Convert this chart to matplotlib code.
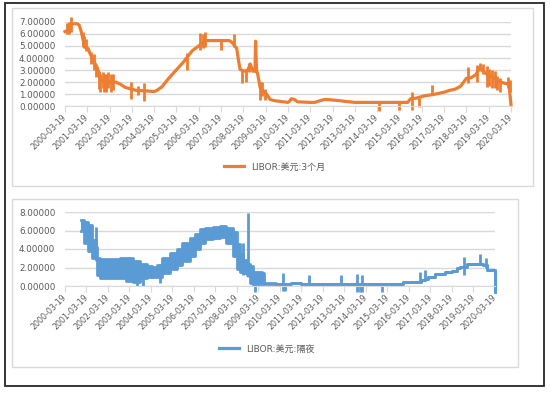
import numpy as np
import pandas as pd
import matplotlib
matplotlib.use("Agg")
import matplotlib.pyplot as plt
from matplotlib.patches import Rectangle
from matplotlib.lines import Line2D

plt.rcParams['font.family'] = ['DejaVu Sans', 'Noto Sans CJK SC']

W, H = 550, 398
tick_labels = ["%d-03-19" % y for y in range(2000, 2021)]

# LIBOR 3 month (main path)
m3_dates = ["2000-03-19", "2000-05-01", "2000-06-10", "2000-07-15", "2000-10-01",
            "2000-11-05", "2000-12-10", "2001-01-15", "2001-02-10", "2001-04-01",
            "2001-05-01", "2001-06-15", "2001-08-30", "2001-09-19", "2001-10-25",
            "2002-01-01", "2002-06-20", "2002-09-01", "2002-12-01", "2003-03-19",
            "2003-06-01", "2003-12-01", "2004-03-19", "2004-05-01", "2004-07-25",
            "2004-10-25", "2005-04-01", "2005-07-01", "2005-12-01", "2006-05-10",
            "2006-08-01", "2007-08-01", "2007-09-15", "2007-11-30", "2008-01-05",
            "2008-01-25", "2008-04-01", "2008-06-01", "2008-07-10", "2008-08-20",
            "2008-09-25", "2008-10-05", "2008-10-20", "2008-11-10", "2008-12-20",
            "2009-02-15", "2009-04-01", "2009-05-30", "2009-08-01", "2010-03-19",
            "2010-04-15", "2010-05-10", "2010-07-01", "2010-08-20", "2011-03-19",
            "2011-06-01", "2011-09-01", "2011-11-15", "2012-03-19", "2012-07-01",
            "2012-09-15", "2013-03-19", "2015-08-01", "2015-09-15", "2015-12-15",
            "2016-05-01", "2016-09-19", "2017-03-19", "2017-06-15", "2017-09-15",
            "2017-12-15", "2018-03-19", "2018-06-01", "2018-08-20", "2018-10-25",
            "2018-12-20", "2019-03-01", "2019-06-01", "2019-08-15", "2019-11-01",
            "2020-02-15", "2020-03-19"]
m3_vals = [6.20, 6.30, 6.70, 6.85, 6.85,
           6.75, 6.20, 5.40, 4.90, 4.80,
           4.40, 3.90, 3.20, 2.80, 2.20,
           2.00, 2.00, 1.85, 1.55, 1.40,
           1.30, 1.25, 1.20, 1.30, 1.60,
           2.20, 3.10, 3.60, 4.60, 5.20,
           5.45, 5.45, 5.30, 4.80, 3.60,
           3.05, 2.90, 3.00, 3.50, 2.90,
           2.90, 5.40, 3.00, 2.60, 1.50,
           1.20, 1.00, 0.55, 0.45, 0.30,
           0.40, 0.60, 0.55, 0.35, 0.30,
           0.30, 0.45, 0.55, 0.50, 0.45,
           0.40, 0.30, 0.30, 0.60, 0.65,
           0.85, 0.95, 1.15, 1.30, 1.40,
           1.65, 2.30, 2.35, 2.60, 3.20,
           2.90, 2.60, 2.40, 2.10, 1.95,
           1.80, 0.10]

# LIBOR 3 month one-day jumps
m3_spike_dates = ["2000-04-20", "2000-05-20", "2000-06-25", "2001-01-01", "2001-01-25",
                  "2001-03-01", "2001-05-20", "2001-07-10", "2001-08-10", "2001-10-01",
                  "2001-10-20", "2001-11-25", "2001-12-20", "2002-01-25", "2002-03-01",
                  "2002-04-05", "2002-05-10", "2003-03-01", "2003-07-01", "2003-10-01",
                  "2005-09-01", "2006-04-01", "2006-05-20", "2006-07-01", "2007-03-19",
                  "2007-10-15", "2008-02-20", "2008-05-01", "2008-06-20", "2008-12-10",
                  "2009-01-15", "2009-03-01", "2014-04-20", "2015-03-19", "2015-10-05",
                  "2016-01-25", "2016-08-30", "2018-04-15", "2018-09-10", "2018-10-25",
                  "2018-12-15", "2019-02-20", "2019-04-01", "2019-05-15", "2019-07-01",
                  "2019-08-10", "2019-09-20", "2020-01-30", "2020-02-25"]
m3_spike_lo = [6.0, 6.0, 6.2, 4.9, 4.8,
               4.6, 3.5, 3.0, 2.4, 1.4,
               1.2, 1.5, 1.2, 1.2, 1.5,
               1.2, 1.3, 0.6, 0.9, 0.45,
               3.0, 4.7, 4.8, 4.9, 4.7,
               4.9, 1.9, 2.0, 2.8, 0.5,
               0.8, 0.5, -0.4, -0.3, -0.3,
               -0.1, 0.95, 1.9, 2.0, 2.9,
               2.7, 1.6, 1.7, 1.5, 1.5,
               1.3, 1.2, 1.5, 1.2]
m3_spike_hi = [6.9, 7.0, 7.4, 6.2, 5.8,
               5.6, 4.5, 4.3, 3.3, 2.9,
               2.7, 2.8, 2.7, 2.7, 2.8,
               2.7, 2.7, 2.0, 1.7, 1.95,
               4.4, 6.1, 6.0, 6.2, 5.5,
               6.0, 3.0, 3.0, 3.6, 2.0,
               2.0, 1.4, 0.3, 0.3, 1.2,
               0.7, 1.75, 3.25, 3.4, 3.6,
               3.5, 3.3, 3.1, 3.0, 2.9,
               2.5, 2.3, 2.4, 2.2]

# LIBOR overnight: daily range (low / high)
on_dates = ["2000-12-15", "2001-02-05", "2001-04-15", "2001-06-20", "2001-08-20",
            "2001-09-19", "2001-11-05", "2002-04-25", "2002-10-05", "2003-01-20",
            "2003-05-15", "2003-09-20", "2004-01-05", "2004-04-05", "2004-07-05",
            "2004-09-19", "2005-02-10", "2005-06-01", "2005-09-01", "2006-01-05",
            "2006-04-05", "2006-07-05", "2006-09-19", "2007-02-10", "2007-06-01",
            "2007-09-19", "2008-01-05", "2008-03-19", "2008-05-15", "2008-07-05",
            "2008-09-01", "2008-10-25", "2008-12-20", "2009-01-25", "2009-05-15",
            "2009-06-20", "2010-01-05", "2010-09-19", "2010-11-25", "2011-02-10",
            "2011-03-19", "2015-12-05", "2016-09-19", "2016-10-10", "2016-12-20",
            "2017-02-10", "2017-06-01", "2017-11-20", "2018-03-19", "2018-06-10",
            "2018-08-01", "2018-11-30", "2019-07-07", "2019-08-30", "2019-11-05",
            "2020-02-25", "2020-03-19"]
on_lo = [5.9, 4.6, 3.8, 3.0, 2.8,
         1.2, 0.9, 0.85, 0.9, 0.5,
         0.4, 0.9, 1.0, 1.0, 1.0,
         1.4, 1.8, 2.3, 2.7, 3.2,
         4.0, 4.6, 5.1, 5.2, 5.3,
         4.6, 3.2, 1.8, 1.5, 1.4,
         1.2, 0.3, 0.1, 0.2, 0.25,
         0.25, 0.25, 0.30, 0.35, 0.35,
         0.18, 0.40, 0.40, 0.70, 0.75,
         1.00, 1.30, 1.50, 1.65, 1.90,
         2.10, 2.40, 2.40, 2.30, 1.75,
         1.75, -0.6]
on_hi = [7.1, 6.9, 6.6, 5.0, 4.2,
         3.0, 2.9, 2.9, 3.0, 3.0,
         2.7, 2.4, 2.2, 2.1, 2.3,
         3.0, 3.6, 4.0, 4.6, 5.2,
         5.6, 6.2, 6.3, 6.4, 6.5,
         6.3, 5.8, 4.5, 3.5, 2.8,
         2.4, 2.2, 1.2, 1.5, 1.4,
         0.30, 0.25, 0.30, 0.35, 0.35,
         0.18, 0.40, 0.40, 0.70, 0.75,
         1.00, 1.30, 1.50, 1.65, 1.90,
         2.10, 2.40, 2.40, 2.30, 1.75,
         1.75, -0.6]

on_spike_dates = ["2001-08-30", "2003-08-01", "2003-11-01", "2004-08-15", "2008-07-01",
                  "2008-09-19", "2009-01-25", "2010-05-10", "2010-06-05", "2011-07-25",
                  "2013-01-20", "2013-10-25", "2013-12-01", "2014-01-10", "2014-12-15",
                  "2016-09-20", "2016-12-15", "2018-10-10", "2019-07-07", "2019-10-10"]
on_spike_lo = [3.0, 0.0, 0.0, 0.3, 1.2,
               1.0, -0.6, -0.5, -0.5, 0.18,
               0.18, -0.6, -0.6, -0.6, -0.6,
               0.4, 0.75, 1.2, 2.3, 2.0]
on_spike_hi = [6.4, 2.5, 2.3, 2.3, 4.6,
               7.9, 1.6, 1.4, 0.3, 1.2,
               1.2, 1.25, 0.3, 1.2, 0.2,
               1.5, 1.75, 3.1, 3.5, 3.0]

orange = '#ED7D31'
blue = '#5B9BD5'
grid_c = '#D9D9D9'
text_c = '#595959'


def fr(x0, y0, x1, y1):
    # pixel box -> figure fraction rect
    return [x0 / W, 1 - y1 / H, (x1 - x0) / W, (y1 - y0) / H]


def style(ax, ymax, ystep):
    ax.set_xlim(pd.Timestamp(tick_labels[0]), pd.Timestamp(tick_labels[-1]))
    ax.set_ylim(0, ymax)
    ax.set_yticks(np.arange(0, ymax + 0.01, ystep))
    ax.set_yticklabels(["%.5f" % v for v in np.arange(0, ymax + 0.01, ystep)])
    ax.set_xticks(pd.to_datetime(tick_labels))
    ax.set_xticklabels(tick_labels, rotation=45, ha='right', va='center',
                       rotation_mode='anchor')
    for s in ['top', 'right', 'left']:
        ax.spines[s].set_visible(False)
    ax.spines['bottom'].set_color(grid_c)
    ax.grid(axis='y', color=grid_c, lw=1)
    ax.set_axisbelow(True)
    ax.tick_params(axis='y', length=0, pad=7, labelsize=6.3, labelcolor=text_c)
    ax.tick_params(axis='x', length=4, color=grid_c, pad=3, labelsize=5.7,
                   labelcolor=text_c)


fig = plt.figure(figsize=(W / 100, H / 100), dpi=100)
fig.add_artist(Rectangle((5 / W, 1 - 386 / H), 539 / W, 383 / H,
                         transform=fig.transFigure, fill=False, ec='#262626', lw=1.3))
r = fr(12, 8, 533, 186)
fig.add_artist(Rectangle((r[0], r[1]), r[2], r[3], transform=fig.transFigure,
                         fill=False, ec=grid_c, lw=1))
r = fr(12, 199, 518, 367)
fig.add_artist(Rectangle((r[0], r[1]), r[2], r[3], transform=fig.transFigure,
                         fill=False, ec=grid_c, lw=1))

# top: 3 month
ax1 = fig.add_axes(fr(65, 22, 511, 106))
style(ax1, 7, 1)
ax1.plot(pd.to_datetime(m3_dates), m3_vals, color=orange, lw=2.3, clip_on=False)
ax1.vlines(pd.to_datetime(m3_spike_dates), m3_spike_lo, m3_spike_hi, color=orange,
           lw=2.0, clip_on=False)
ax1.legend([Line2D([], [], color=orange, lw=2.3)], ['LIBOR:美元:3个月'],
           loc='center', bbox_to_anchor=(275 / W, 1 - 167 / H),
           bbox_transform=fig.transFigure, frameon=False, fontsize=6.5,
           handlelength=2.2, labelcolor=text_c)

# bottom: overnight
ax2 = fig.add_axes(fr(65, 212, 495, 286))
style(ax2, 8, 2)
d = pd.to_datetime(on_dates)
ax2.fill_between(d, on_lo, on_hi, step='post', color=blue, lw=0, clip_on=False)
ax2.plot(d, on_lo, color=blue, lw=2.0, drawstyle='steps-post', clip_on=False)
ax2.plot(d, on_hi, color=blue, lw=2.0, drawstyle='steps-post', clip_on=False)
ax2.vlines(pd.to_datetime(on_spike_dates), on_spike_lo, on_spike_hi, color=blue,
           lw=2.0, clip_on=False)
ax2.legend([Line2D([], [], color=blue, lw=2.3)], ['LIBOR:美元:隔夜'],
           loc='center', bbox_to_anchor=(267 / W, 1 - 349 / H),
           bbox_transform=fig.transFigure, frameon=False, fontsize=6.5,
           handlelength=2.2, labelcolor=text_c)

fig.savefig('out.png', dpi=100)
